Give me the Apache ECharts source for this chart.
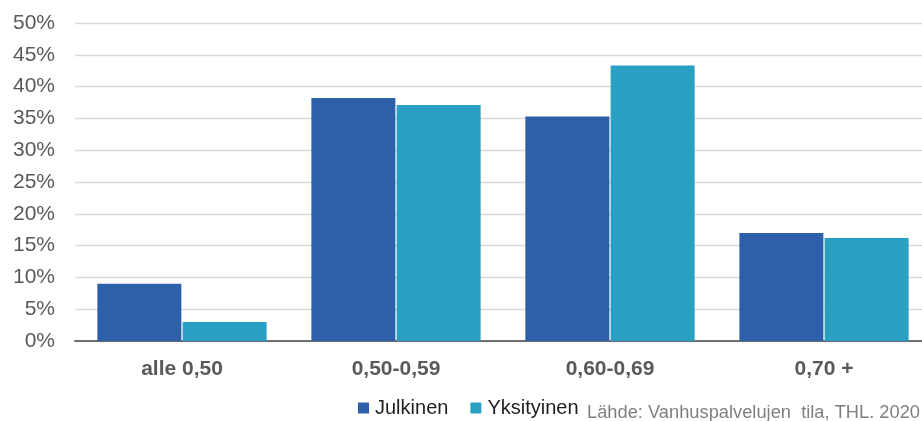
<!DOCTYPE html>
<html>
<head>
<meta charset="utf-8">
<script src="https://cdn.jsdelivr.net/npm/echarts@6/dist/echarts.min.js"></script>
<style>
  html, body { margin: 0; padding: 0; background: #ffffff; }
  #chart { width: 922px; height: 421px; }
</style>
</head>
<body>
<div id="chart"></div>
<script>
// Henkilöstömitoituksen jakauma omistajatyypin mukaan (%)
const categories = ['alle 0,50', '0,50-0,59', '0,60-0,69', '0,70 +'];
const julkinen = [9.0, 38.2, 35.3, 17.0];
const yksityinen = [3.0, 37.1, 43.3, 16.2];
const seriesNames = ['Julkinen', 'Yksityinen'];
const sourceText = 'Lähde: Vanhuspalvelujen  tila, THL. 2020';

const FONT = '"Liberation Sans", Arial, sans-serif';

const chart = echarts.init(document.getElementById('chart'), null, { renderer: 'canvas' });

chart.setOption({
  animation: false,
  backgroundColor: '#ffffff',
  textStyle: { fontFamily: FONT },
  // plot area runs past the right edge of the canvas
  grid: {
    left: 75, width: 856, top: 23, bottom: 80,
    containLabel: false,
    outerBoundsMode: 'none'
  },
  xAxis: {
    type: 'category',
    data: categories,
    axisTick: { show: false },
    axisLine: { show: true, lineStyle: { color: '#6f6f6f', width: 2 } },
    axisLabel: {
      margin: 18,
      color: '#595959',
      fontSize: 21,
      fontWeight: 'bold',
      fontFamily: FONT
    }
  },
  yAxis: {
    type: 'value',
    min: 0,
    max: 50,
    interval: 5,
    axisLine: { show: false },
    axisTick: { show: false },
    splitLine: { show: true, lineStyle: { color: '#d9d9d9', width: 1.3 } },
    axisLabel: {
      margin: 20,
      color: '#595959',
      fontSize: 21,
      fontFamily: FONT,
      formatter: '{value}%'
    }
  },
  legend: {
    data: seriesNames,
    left: 358,
    top: 398,
    padding: 0,
    icon: 'rect',
    itemWidth: 11,
    itemHeight: 11,
    itemGap: 22,
    textStyle: { color: '#1f1f1f', fontSize: 20, fontFamily: FONT, padding: [0, 0, 0, 1] }
  },
  graphic: [{
    type: 'text',
    left: 587,
    top: 404,
    style: {
      text: sourceText,
      fill: '#7f7f7f',
      font: '18.3px ' + FONT
    }
  }],
  series: [
    {
      name: seriesNames[0],
      type: 'bar',
      data: julkinen,
      barWidth: 84,
      barGap: '1.5%',
      itemStyle: { color: '#2e5fa9' }
    },
    {
      name: seriesNames[1],
      type: 'bar',
      data: yksityinen,
      barWidth: 84,
      barGap: '1.5%',
      itemStyle: { color: '#29a0c2' }
    }
  ]
});
</script>
</body>
</html>
